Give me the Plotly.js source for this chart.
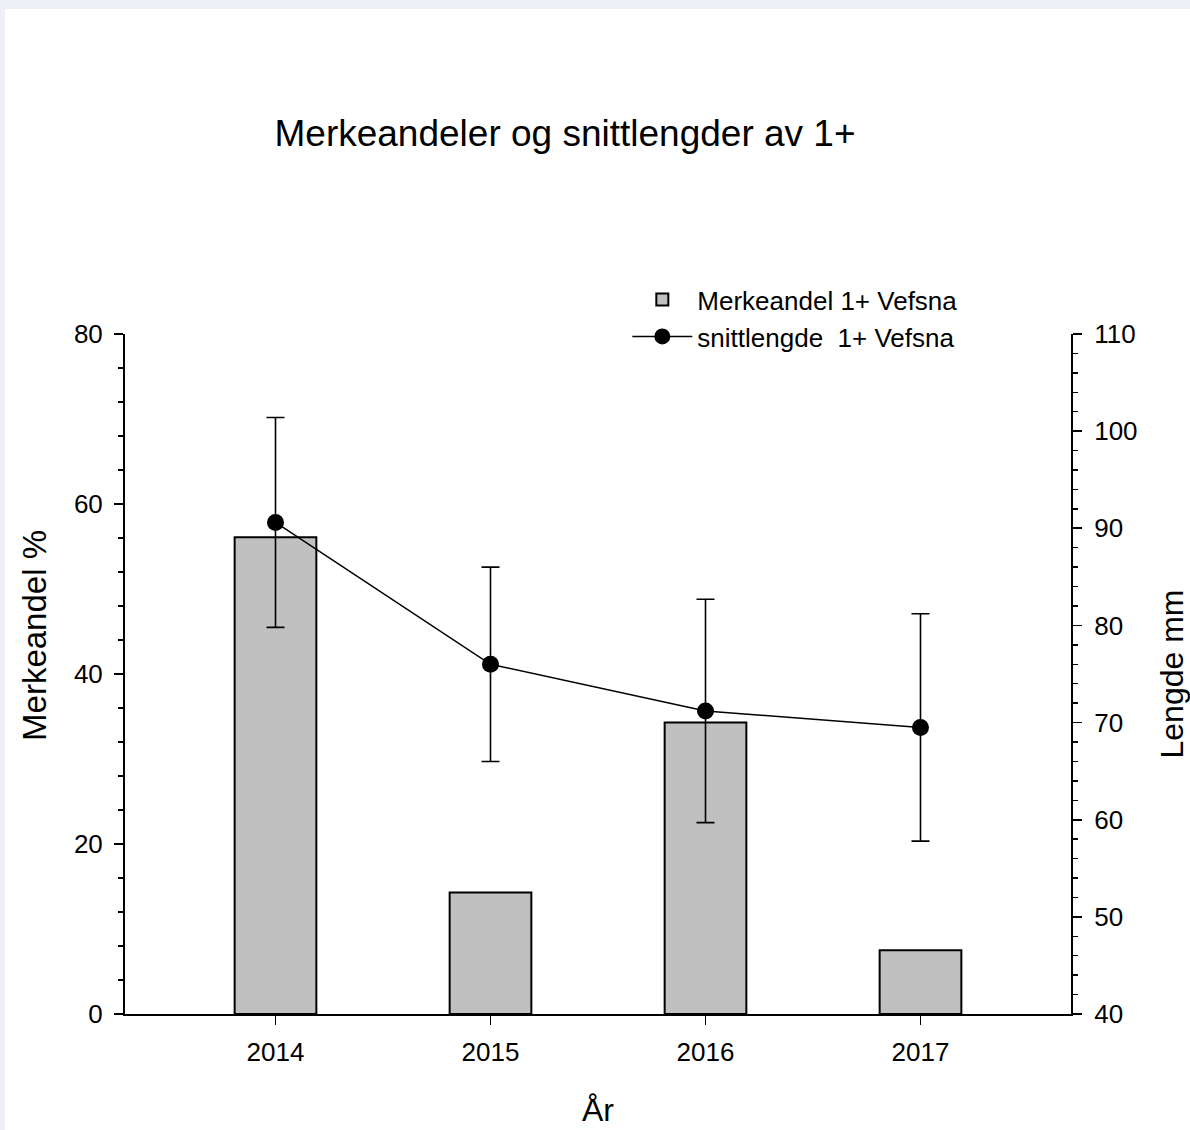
<!DOCTYPE html>
<html>
<head>
<meta charset="utf-8">
<script src="https://cdn.plot.ly/plotly-3.0.1.min.js"></script>
<style>
html, body { margin: 0; padding: 0; background: #eff0f6; overflow: hidden; }
#chart { position: absolute; left: 5px; top: 9px; width: 1185px; height: 1121px; background: #ffffff; }
</style>
</head>
<body>
<div id="chart"></div>
<script>
const years = [2014, 2015, 2016, 2017];
const merkeandel = [56.1, 14.3, 34.3, 7.5];
const snittlengde = [90.6, 76.0, 71.2, 69.5];
const snittlengdeErr = [10.8, 10.0, 11.5, 11.7];
const leftTicks = [0, 20, 40, 60, 80];
const rightTicks = [40, 50, 60, 70, 80, 90, 100, 110];

const FONT = "Liberation Sans, Arial, sans-serif";

const traces = [
  {
    type: 'bar',
    name: 'Merkeandel 1+ Vefsna',
    x: years,
    y: merkeandel,
    width: 0.38,
    marker: { color: '#c0c0c0', line: { color: '#000000', width: 2 } },
    yaxis: 'y',
    hoverinfo: 'x+y'
  },
  {
    type: 'scatter',
    mode: 'lines+markers',
    name: 'snittlengde  1+ Vefsna',
    x: years,
    y: snittlengde,
    yaxis: 'y2',
    line: { color: '#000000', width: 1.5 },
    marker: { color: '#000000', size: 17 },
    error_y: { type: 'data', array: snittlengdeErr, visible: true, color: '#000000', thickness: 1.6, width: 9 }
  }
];

const layout = {
  width: 1185,
  height: 1121,
  margin: { l: 120, r: 119, t: 325, b: 116, pad: 0 },
  paper_bgcolor: '#ffffff',
  plot_bgcolor: '#ffffff',
  font: { family: FONT, color: '#000000', size: 26 },
  showlegend: true,
  title: {
    text: 'Merkeandeler og snittlengder av 1+',
    font: { family: FONT, size: 37, color: '#000000' },
    xref: 'container', yref: 'container',
    x: 0.4726, xanchor: 'center',
    y: 0.889, yanchor: 'middle'
  },
  legend: {
    x: 0.531, xanchor: 'left',
    y: 1.085, yanchor: 'top',
    bgcolor: 'rgba(0,0,0,0)',
    font: { family: FONT, size: 26, color: '#000000' },
    traceorder: 'normal',
    itemwidth: 60,
    tracegroupgap: 0
  },
  annotations: [
    {
      text: 'Merkeandel %',
      xref: 'paper', yref: 'paper',
      x: -0.0951, y: 0.556,
      xanchor: 'center', yanchor: 'middle',
      textangle: -90,
      showarrow: false,
      font: { family: FONT, size: 33, color: '#000000' }
    }
  ],
  xaxis: {
    range: [2013.3, 2017.7],
    tickvals: years,
    ticktext: years.map(String),
    showline: true, linecolor: '#000000', linewidth: 2,
    ticks: 'outside', ticklen: 9, tickwidth: 1.8, tickcolor: '#000000',
    ticklabelstandoff: 5,
    showgrid: false, zeroline: false,
    tickfont: { family: FONT, size: 26, color: '#000000' },
    title: { text: 'År', font: { family: FONT, size: 32, color: '#000000' }, standoff: 32 }
  },
  yaxis: {
    range: [0, 80],
    tickvals: leftTicks,
    showline: true, linecolor: '#000000', linewidth: 2,
    ticks: 'outside', ticklen: 9, tickwidth: 1.8, tickcolor: '#000000',
    ticklabelstandoff: 6,
    minor: { dtick: 4, ticks: 'outside', ticklen: 5, tickwidth: 1.5, tickcolor: '#000000', showgrid: false },
    showgrid: false, zeroline: false,
    tickfont: { family: FONT, size: 26, color: '#000000' }
  },
  yaxis2: {
    range: [40, 110],
    tickvals: rightTicks,
    overlaying: 'y',
    side: 'right',
    showline: true, linecolor: '#000000', linewidth: 2,
    ticks: 'outside', ticklen: 9, tickwidth: 1.8, tickcolor: '#000000',
    ticklabelstandoff: 7,
    minor: { dtick: 2, ticks: 'outside', ticklen: 5, tickwidth: 1.5, tickcolor: '#000000', showgrid: false },
    showgrid: false, zeroline: false,
    tickfont: { family: FONT, size: 26, color: '#000000' },
    title: { text: 'Lengde mm', font: { family: FONT, size: 32, color: '#000000' }, standoff: 46 }
  }
};

Plotly.newPlot('chart', traces, layout, { staticPlot: true, displayModeBar: false });
</script>
</body>
</html>
